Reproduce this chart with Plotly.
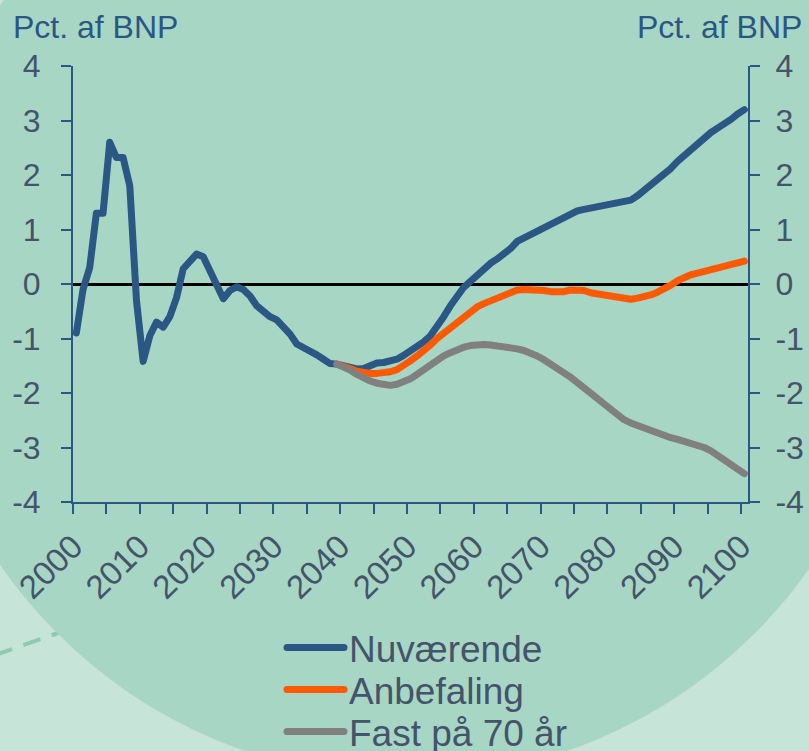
import plotly.graph_objects as go

# ---------------- data ----------------
years_hist = list(range(2000, 2101))
nuvaerende = [
    -0.9, -0.1, 0.3, 1.3, 1.3, 2.6, 2.32, 2.32, 1.8, -0.3,
    -1.42, -0.95, -0.7, -0.79, -0.6, -0.25, 0.28, 0.42, 0.55, 0.5,
    0.24, -0.02, -0.27, -0.12, -0.05, -0.1, -0.22, -0.4, -0.52, -0.6,
    -0.66, -0.78, -0.92, -1.1, -1.16, -1.24, -1.3, -1.38, -1.46, -1.47,
    -1.5, -1.53, -1.56, -1.55, -1.49, -1.45, -1.44, -1.42, -1.38, -1.31,
    -1.23, -1.15, -1.06, -0.95, -0.8, -0.6, -0.4, -0.22, -0.06, 0.05,
    0.17, 0.3, 0.38, 0.46, 0.55, 0.65, 0.78, 0.84, 0.9, 0.97,
    1.05, 1.1, 1.15, 1.2, 1.27, 1.34, 1.37, 1.39, 1.41, 1.44,
    1.46, 1.48, 1.5, 1.54, 1.62, 1.72, 1.82, 1.9, 2.0, 2.12,
    2.25, 2.36, 2.46, 2.56, 2.68, 2.78, 2.86, 2.93, 3.02, 3.12,
    3.2,
]
years_proj = list(range(2039, 2101))
anbefaling = [
    -1.47, -1.5, -1.55, -1.6, -1.63, -1.64, -1.64, -1.63, -1.61, -1.57,
    -1.5, -1.41, -1.32, -1.23, -1.12, -1.0, -0.9, -0.8, -0.72, -0.62,
    -0.5, -0.42, -0.36, -0.31, -0.26, -0.2, -0.14, -0.11, -0.1, -0.1,
    -0.1, -0.12, -0.14, -0.15, -0.14, -0.11, -0.1, -0.12, -0.16, -0.18,
    -0.2, -0.22, -0.25, -0.28, -0.28, -0.26, -0.24, -0.2, -0.15, -0.1,
    -0.02, 0.06, 0.12, 0.17, 0.2, 0.23, 0.25, 0.28, 0.31, 0.34,
    0.38, 0.42,
]
fast_70 = [
    -1.47, -1.52, -1.58, -1.66, -1.73, -1.78, -1.82, -1.85, -1.86, -1.84,
    -1.8, -1.74, -1.66, -1.57, -1.48, -1.39, -1.32, -1.26, -1.2, -1.16,
    -1.13, -1.11, -1.11, -1.12, -1.13, -1.15, -1.17, -1.19, -1.22, -1.26,
    -1.32, -1.39, -1.46, -1.55, -1.63, -1.71, -1.8, -1.9, -2.0, -2.1,
    -2.2, -2.31, -2.41, -2.49, -2.55, -2.6, -2.65, -2.7, -2.74, -2.78,
    -2.82, -2.85, -2.88, -2.92, -2.95, -3.0, -3.06, -3.14, -3.23, -3.32,
    -3.41, -3.48,
]
series_names = ["Nuværende", "Anbefaling", "Fast på 70 år"]
y_tick_vals = [-4, -3, -2, -1, 0, 1, 2, 3, 4]
y_tick_text = ["-4", "-3", "-2", "-1", "0", "1", "2", "3", "4"]
x_tick_years = list(range(2000, 2101, 5))
x_tick_text = [str(y) if y % 10 == 0 else "" for y in x_tick_years]
axis_title = "Pct. af BNP"

# ---------------- style ----------------
W, H = 809, 751
L, R, T, B = 73, 61, 66, 249
PW, PH = W - L - R, H - T - B

def px(x):
    return (x - L) / PW

def py(y):
    return (H - B - y) / PH

BLUE = "#2a5783"
ORANGE = "#ff5a00"
GREY = "#808080"
AXIS = "#2a5783"
LABEL = "#44546a"
OUTER = "#c7e4d8"
INNER = "#a8d6c4"
FONT = "Liberation Sans, Arial, sans-serif"
LW = 7

fig = go.Figure()
fig.add_trace(go.Scatter(x=years_hist, y=nuvaerende, mode="lines", name=series_names[0],
                         line=dict(color=BLUE, width=LW), legend="legend", showlegend=True))
fig.add_trace(go.Scatter(x=years_proj, y=anbefaling, mode="lines", name=series_names[1],
                         line=dict(color=ORANGE, width=LW), legend="legend2", showlegend=True))
fig.add_trace(go.Scatter(x=years_proj, y=fast_70, mode="lines", name=series_names[2],
                         line=dict(color=GREY, width=LW), legend="legend3", showlegend=True))
fig.add_trace(go.Scatter(x=[], y=[], yaxis="y2", showlegend=False, hoverinfo="skip"))

# x positions: each year occupies one slot centred on the year
tick_pos = [y - 0.5 for y in x_tick_years]

common_y = dict(range=[-4, 4], tickvals=y_tick_vals, ticktext=y_tick_text,
                ticks="outside", ticklen=10, tickwidth=2, tickcolor=AXIS,
                showline=True, linecolor=AXIS, linewidth=2, showgrid=False,
                tickfont=dict(family=FONT, size=32, color=LABEL),
                fixedrange=True)

fig.update_layout(
    width=W, height=H,
    margin=dict(l=L, r=R, t=T, b=B, autoexpand=False),
    paper_bgcolor=OUTER,
    plot_bgcolor="rgba(0,0,0,0)",
    font=dict(family=FONT, color=LABEL),
    showlegend=True,
    xaxis=dict(range=[1999.5, 2100.55], tickvals=tick_pos, ticktext=x_tick_text,
               tickangle=-45, ticks="outside", ticklen=10, tickwidth=2, tickcolor=AXIS,
               showline=True, linecolor=AXIS, linewidth=2, showgrid=False, zeroline=False,
               tickfont=dict(family=FONT, size=33, color=LABEL), fixedrange=True),
    yaxis=dict(**common_y, ticklabelstandoff=14, zeroline=True,
               zerolinecolor="#000000", zerolinewidth=2.5),
    yaxis2=dict(**common_y, ticklabelstandoff=9, overlaying="y", side="right", zeroline=False),
    shapes=[
        dict(type="line", xref="paper", yref="paper", layer="below",
             x0=px(-5), y0=py(655), x1=px(170), y1=py(594),
             line=dict(color="#8ccbb1", width=4, dash="18px,12px")),
        dict(type="circle", xref="paper", yref="paper", layer="below",
             x0=px(406 - 493), x1=px(406 + 493), y0=py(285 + 493), y1=py(285 - 493),
             fillcolor=INNER, line=dict(width=0)),
    ],
    annotations=[
        dict(text=axis_title, xref="paper", yref="paper", x=px(11), y=py(27),
             xanchor="left", yanchor="middle", showarrow=False,
             font=dict(family=FONT, size=32, color=BLUE)),
        dict(text=axis_title, xref="paper", yref="paper", x=px(804), y=py(27),
             xanchor="right", yanchor="middle", showarrow=False,
             font=dict(family=FONT, size=32, color=BLUE)),
    ],
)

leg_common = dict(xanchor="left", yanchor="middle", bgcolor="rgba(0,0,0,0)",
                  font=dict(family=FONT, size=37, color=LABEL), itemwidth=57)
fig.update_layout(
    legend=dict(x=px(282), y=py(648), **leg_common),
    legend2=dict(x=px(282), y=py(690), **leg_common),
    legend3=dict(x=px(282), y=py(732), **leg_common),
)

post = (
    "document.body.style.margin='0';document.body.style.padding='0';"
    "document.documentElement.style.overflow='hidden';"
    "document.querySelectorAll('.scatterlayer path.js-line, .legendlines path').forEach("
    "function(p){p.style.strokeLinecap='round';p.style.strokeLinejoin='round';});"
)
fig.write_html("out.html", config={"displayModeBar": False}, post_script=post)
